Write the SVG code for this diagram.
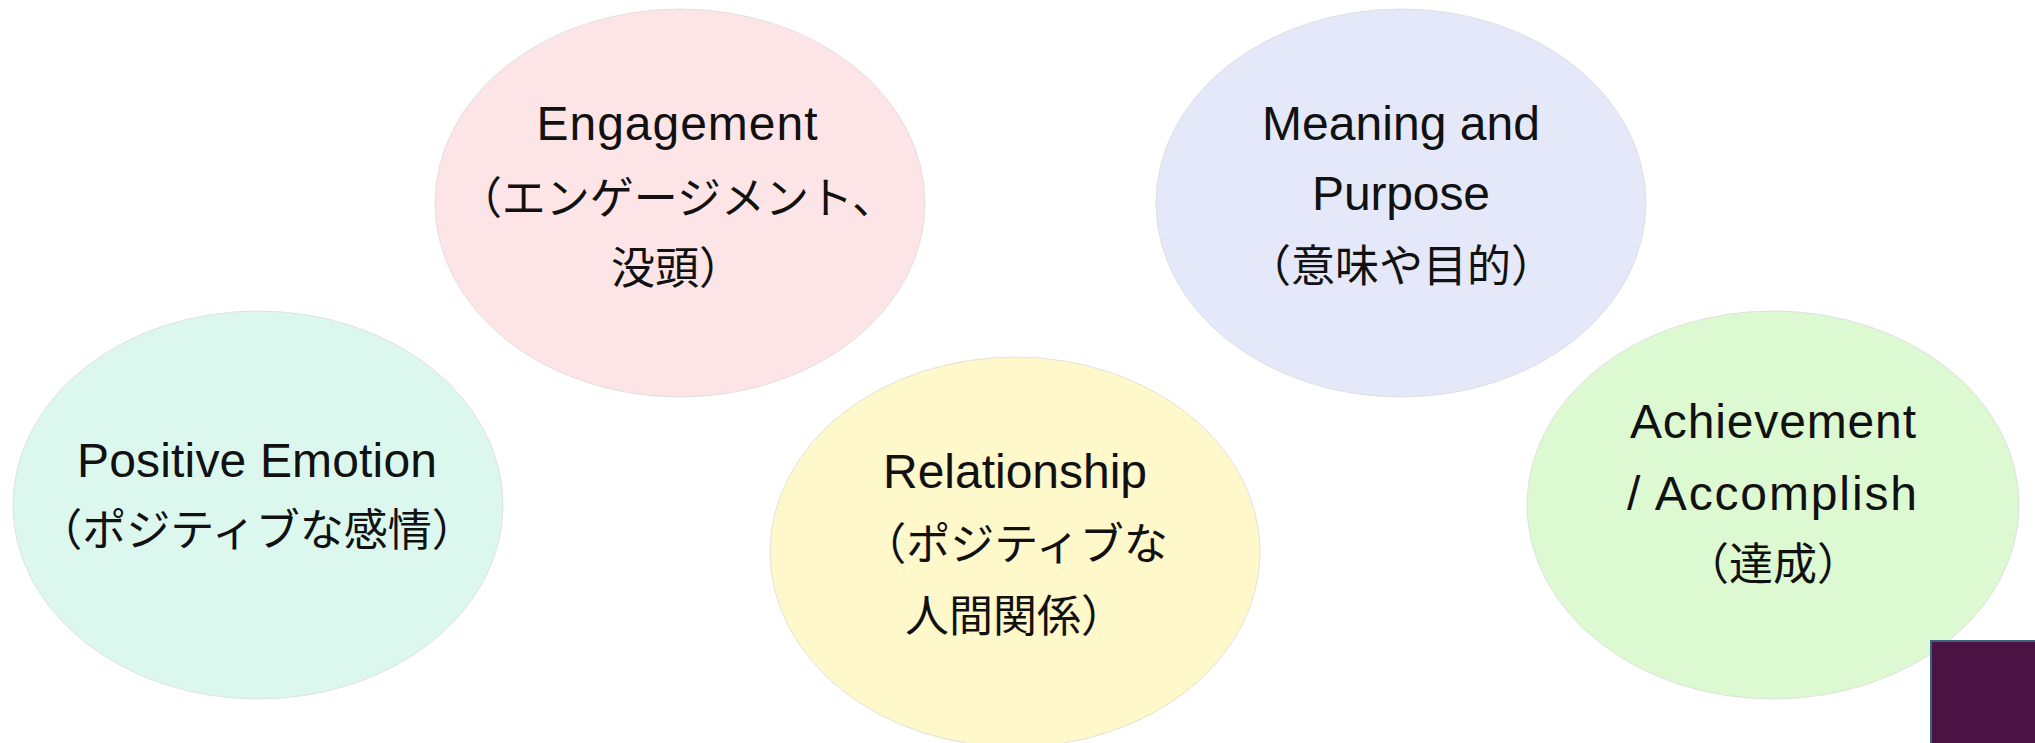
<svg xmlns="http://www.w3.org/2000/svg" width="2035" height="743" viewBox="0 0 2035 743">
<style>
.bub{stroke:#dadada;stroke-width:0.8}
.en{font-family:"Liberation Sans","Noto Sans CJK JP",sans-serif;font-size:48px;fill:#111;text-anchor:middle}
.jp{font-family:"Noto Sans CJK JP","Liberation Sans",sans-serif;font-size:44px;fill:#111;text-anchor:middle}
</style>
<rect width="2035" height="743" fill="#ffffff"/>
<g id="connectors"></g>
<g id="positive-emotion">
<ellipse class="bub" cx="258" cy="505" rx="245" ry="194" fill="#dcf8ee"/>
<text class="en" x="257" y="477" textLength="360">Positive Emotion</text>
<text class="jp" x="257" y="546">（ポジティブな感情）</text>
</g>
<g id="engagement">
<ellipse class="bub" cx="680" cy="203" rx="245" ry="194" fill="#fde5e7"/>
<text class="en" x="677" y="140" textLength="281">Engagement</text>
<text class="jp" x="677" y="214">（エンゲージメント、</text>
<text class="jp" x="677" y="284">没頭）</text>
</g>
<g id="relationship">
<ellipse class="bub" cx="1015" cy="552" rx="245" ry="195" fill="#fff8cb"/>
<text class="en" x="1015" y="488" textLength="264">Relationship</text>
<text class="jp" x="1015" y="560">（ポジティブな</text>
<text class="jp" x="1015" y="632">人間関係）</text>
</g>
<g id="meaning">
<ellipse class="bub" cx="1401" cy="203" rx="245" ry="194" fill="#e4e8f9"/>
<text class="en" x="1401" y="140" textLength="278">Meaning and</text>
<text class="en" x="1401" y="210" textLength="178">Purpose</text>
<text class="jp" x="1401" y="282">（意味や目的）</text>
</g>
<g id="achievement">
<ellipse class="bub" cx="1773" cy="505" rx="246" ry="194" fill="#dcf9d2"/>
<text class="en" x="1773" y="438" textLength="286">Achievement</text>
<text class="en" x="1772" y="510" textLength="290">/ Accomplish</text>
<text class="jp" x="1773" y="580">（達成）</text>
</g>
<g id="corner-box">
<rect x="1931" y="641" width="106" height="104" fill="#4b1244" stroke="#3b6382" stroke-width="2"/>
</g>
</svg>
